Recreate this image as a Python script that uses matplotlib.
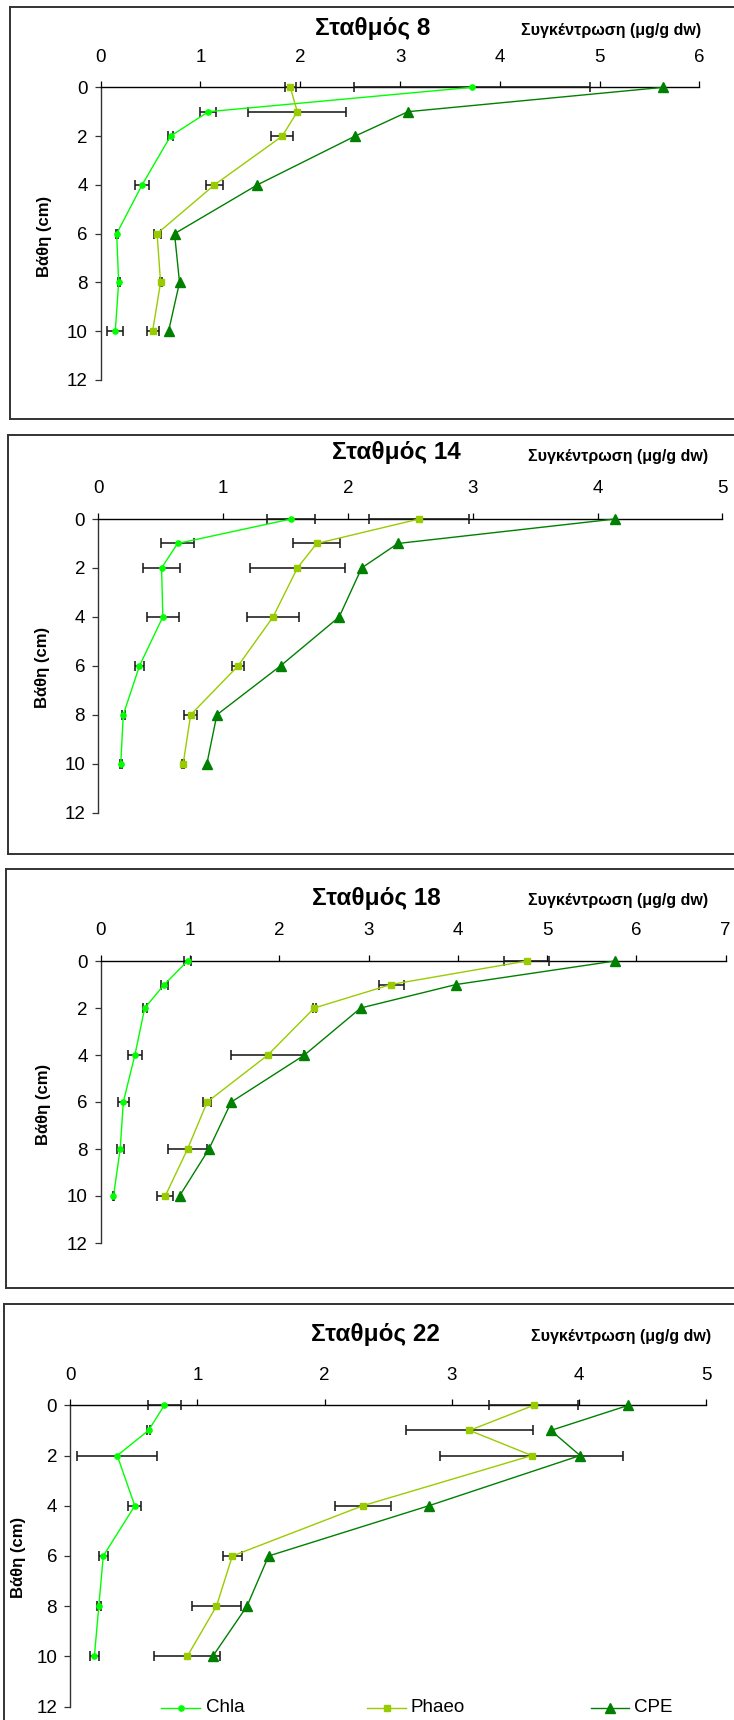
import matplotlib
matplotlib.use("Agg")
import matplotlib.pyplot as plt
from matplotlib.lines import Line2D

plt.rcParams['font.family'] = ['Liberation Sans', 'DejaVu Sans']

# ---- data -------------------------------------------------------------
depth = [0, 1, 2, 4, 6, 8, 10]
depth_ticks = [0, 2, 4, 6, 8, 10, 12]

titles = ["Σταθμός 8", "Σταθμός 14", "Σταθμός 18", "Σταθμός 22"]
conc_label = "Συγκέντρωση (μg/g dw)"
depth_label = "Βάθη (cm)"
series_names = ["Chla", "Phaeo", "CPE"]

st8_chla = [3.72, 1.08, 0.70, 0.415, 0.16, 0.18, 0.146]
st8_chla_err = [1.18, 0.08, 0.025, 0.073, 0.01, 0.01, 0.078]
st8_phaeo = [1.90, 1.97, 1.82, 1.14, 0.565, 0.60, 0.52]
st8_phaeo_err = [0.055, 0.49, 0.11, 0.083, 0.035, 0.01, 0.06]
st8_cpe = [5.64, 3.08, 2.55, 1.57, 0.74, 0.79, 0.68]

st14_chla = [1.544, 0.635, 0.507, 0.517, 0.33, 0.20, 0.18]
st14_chla_err = [0.19, 0.13, 0.149, 0.127, 0.034, 0.01, 0.01]
st14_phaeo = [2.57, 1.75, 1.595, 1.40, 1.12, 0.74, 0.68]
st14_phaeo_err = [0.40, 0.19, 0.38, 0.21, 0.047, 0.05, 0.01]
st14_cpe = [4.14, 2.40, 2.11, 1.93, 1.46, 0.95, 0.87]

st18_chla = [0.97, 0.71, 0.49, 0.38, 0.25, 0.215, 0.14]
st18_chla_err = [0.035, 0.04, 0.02, 0.08, 0.06, 0.04, 0.01]
st18_phaeo = [4.77, 3.25, 2.39, 1.87, 1.19, 0.97, 0.72]
st18_phaeo_err = [0.255, 0.14, 0.02, 0.41, 0.045, 0.22, 0.09]
st18_cpe = [5.76, 3.98, 2.91, 2.28, 1.46, 1.21, 0.88]

st22_chla = [0.74, 0.616, 0.37, 0.508, 0.26, 0.225, 0.19]
st22_chla_err = [0.13, 0.01, 0.313, 0.05, 0.034, 0.015, 0.035]
st22_phaeo = [3.645, 3.14, 3.63, 2.30, 1.275, 1.15, 0.92]
st22_phaeo_err = [0.35, 0.50, 0.72, 0.22, 0.075, 0.19, 0.26]
st22_cpe = [4.39, 3.78, 4.01, 2.82, 1.56, 1.39, 1.12]

x_max = [6, 5, 7, 5]

stations = [
    (st8_chla, st8_chla_err, st8_phaeo, st8_phaeo_err, st8_cpe),
    (st14_chla, st14_chla_err, st14_phaeo, st14_phaeo_err, st14_cpe),
    (st18_chla, st18_chla_err, st18_phaeo, st18_phaeo_err, st18_cpe),
    (st22_chla, st22_chla_err, st22_phaeo, st22_phaeo_err, st22_cpe),
]

# ---- styling / layout (pixel units of a 734x1720 canvas) --------------
W, H = 734, 1720
C_CHLA, C_PHAEO, C_CPE = "#00FF00", "#99CC00", "#008000"
ERR_C = "#1a1a1a"

# plot area: x of value 0, x of value max, y of depth 0, y of depth 12
areas = [
    (100.7, 699.4, 87.3, 380.0),
    (98.3, 722.4, 519.0, 812.7),
    (101.0, 725.7, 961.0, 1243.0),
    (70.2, 706.0, 1405.3, 1706.7),
]
# panel frames: left, top, bottom
frames = [(10, 7, 419), (8, 435, 854), (6, 869, 1288), (4, 1304, None)]
title_pos = [(373, 29), (396, 453), (376, 898), (375, 1334)]
conc_pos = [(611, 30), (618, 457), (618, 901), (621, 1337)]
ylab_pos = [(44.5, 236), (42, 667), (43.5, 1104), (18.7, 1557)]

fig = plt.figure(figsize=(W / 100, H / 100), dpi=100)


def fx(px):
    return px / W


def fy(py):
    return 1 - py / H


for i, (chla, chla_err, phaeo, phaeo_err, cpe) in enumerate(stations):
    x0, x1, y0, y12 = areas[i]
    ax = fig.add_axes([fx(x0), fy(y12), fx(x1 - x0), (y12 - y0) / H])
    ax.set_xlim(0, x_max[i])
    ax.set_ylim(12, 0)

    # error bars (Chla and Phaeo)
    for vals, errs in ((chla, chla_err), (phaeo, phaeo_err)):
        ax.errorbar(vals, depth, xerr=errs, fmt="none", ecolor=ERR_C,
                    elinewidth=1.15, capsize=3.6, capthick=1.15,
                    zorder=3, clip_on=False)

    ax.plot(chla, depth, color=C_CHLA, lw=1.0, marker="o", ms=3.8,
            zorder=4, clip_on=False)
    ax.plot(phaeo, depth, color=C_PHAEO, lw=1.0, marker="s", ms=3.8,
            zorder=4, clip_on=False)
    ax.plot(cpe, depth, color=C_CPE, lw=1.0, marker="^", ms=7.8,
            zorder=4, clip_on=False)

    for s in ("right", "bottom"):
        ax.spines[s].set_visible(False)
    ax.spines["top"].set_color("black")
    ax.spines["top"].set_linewidth(1.0)
    ax.spines["left"].set_color("#333333")
    ax.spines["left"].set_linewidth(1.0)

    ax.xaxis.tick_top()
    ax.set_xticks(range(0, x_max[i] + 1))
    ax.set_yticks(depth_ticks)
    ax.tick_params(axis="x", direction="out", length=4, width=0.9,
                   pad=11.5, labelsize=13.5, color="black")
    ax.tick_params(axis="y", direction="out", length=4, width=0.9,
                   pad=5.5, labelsize=13.5, color="#333333")
    ax.set_facecolor("none")

    # frame around each panel (open on the right)
    fl, ft, fb = frames[i]
    fb_y = fb if fb is not None else H + 5
    fig.add_artist(Line2D([fx(fl), fx(fl)], [fy(ft), fy(fb_y)],
                          color="#333333", lw=1.4))
    fig.add_artist(Line2D([fx(fl), fx(W + 5)], [fy(ft), fy(ft)],
                          color="#333333", lw=1.4))
    if fb is not None:
        fig.add_artist(Line2D([fx(fl), fx(W + 5)], [fy(fb), fy(fb)],
                              color="#333333", lw=1.4))

    tx, ty = title_pos[i]
    fig.text(fx(tx), fy(ty), titles[i], ha="center", va="center",
             fontsize=17.5, fontweight="bold")
    cx, cy = conc_pos[i]
    fig.text(fx(cx), fy(cy), conc_label, ha="center", va="center",
             fontsize=11.5, fontweight="bold")
    lx, ly = ylab_pos[i]
    fig.text(fx(lx), fy(ly), depth_label, ha="center", va="center",
             rotation=90, fontsize=12, fontweight="bold")

# legend along the bottom of the last panel
leg_y = 1708
leg_items = [
    (161, 200, 206, C_CHLA, "o", 3.8),
    (367, 406, 411, C_PHAEO, "s", 3.8),
    (591, 629, 634, C_CPE, "^", 7.8),
]
for (lx0, lx1, tx0, col, mk, ms), name in zip(leg_items, series_names):
    fig.add_artist(Line2D([fx(lx0), fx((lx0 + lx1) / 2), fx(lx1)],
                          [fy(leg_y)] * 3, color=col, lw=1.0, marker=mk,
                          ms=ms, markevery=[1]))
    fig.text(fx(tx0), fy(leg_y), name, ha="left", va="center", fontsize=13.5)

fig.savefig("out.png", dpi=100, facecolor="white")
